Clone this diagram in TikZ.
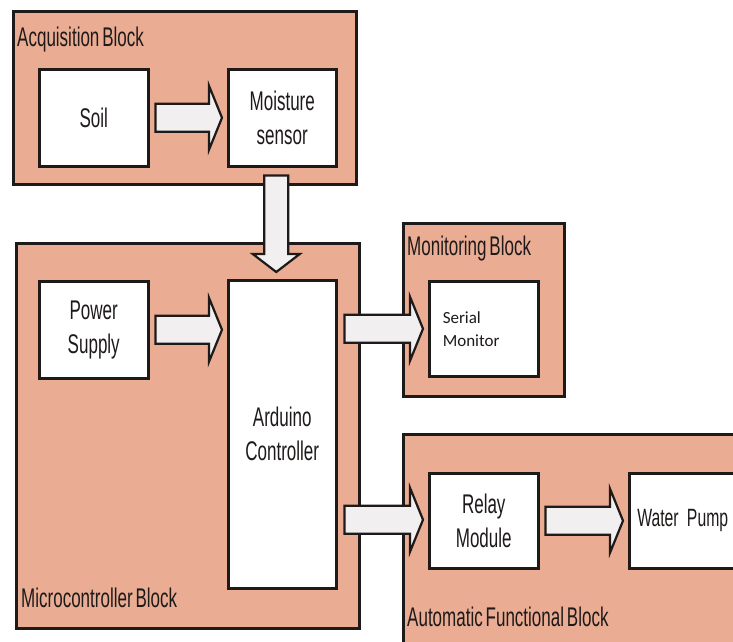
\documentclass[tikz,border=0pt]{standalone}
\usepackage{fontspec}
\setmainfont{Liberation Sans}
\newfontfamily\narrowfont[FakeStretch=0.63,WordSpace=0.6]{Liberation Sans}
\newfontfamily\serialfont{Carlito}
\usetikzlibrary{calc}
\definecolor{salmon}{HTML}{EAAD93}
\definecolor{arrowfill}{HTML}{F1EFEF}
\definecolor{ink}{HTML}{1E1A1A}
\tikzset{
  blockarea/.style={draw=ink, fill=salmon, line width=2.5pt, inner sep=0pt, anchor=north west},
  unit/.style={draw=ink, fill=white, line width=2.5pt, inner sep=0pt, anchor=north west, align=center,
    font=\narrowfont\fontsize{27}{34}\selectfont, text=ink},
  blocklabel/.style={anchor=base west, inner sep=0pt, font=\narrowfont\fontsize{27}{30}\selectfont, text=ink},
  fat/.style={draw=ink, fill=arrowfill, line width=2.2pt, line join=miter},
}
% horizontal block arrow: #1 start point, #2 tip point
\newcommand\fatarrowH[2]{%
  \draw[fat] let \p1=#1, \p2=#2 in
    (\x1,\y1+14pt) -- (\x2-13pt,\y1+14pt) -- (\x2-13pt,\y1+32pt) -- (\x2,\y1)
    -- (\x2-13pt,\y1-32pt) -- (\x2-13pt,\y1-14pt) -- (\x1,\y1-14pt) -- cycle;}
% vertical (downward) block arrow: #1 start point, #2 tip point
\newcommand\fatarrowV[2]{%
  \draw[fat] let \p1=#1, \p2=#2 in
    (\x1-12pt,\y1) -- (\x1-12pt,\y2+18pt) -- (\x1-23.5pt,\y2+18pt) -- (\x1,\y2)
    -- (\x1+23.5pt,\y2+18pt) -- (\x1+12pt,\y2+18pt) -- (\x1+12pt,\y1) -- cycle;}
\begin{document}
\begin{tikzpicture}[x=1pt,y=-1pt]
\useasboundingbox (0,0) rectangle (733,641);
\clip (0,0) rectangle (733,641);
\fill[white] (0,0) rectangle (733,641);

% blocks
\node[blockarea, minimum width=343, minimum height=173] (acq) at (12,10) {};
\node[blockarea, minimum width=343, minimum height=385] (mcu) at (15,242) {};
\node[blockarea, minimum width=161, minimum height=173] (mon) at (402,222) {};
\node[blockarea, minimum width=360, minimum height=230] (auto) at (402,433) {};

\node[blocklabel] (acqlbl) at (17,46) {Acquisition Block};
\node[blocklabel] (mculbl) at (21,607) {Microcontroller Block};
\node[blocklabel] (monlbl) at (407,255) {Monitoring Block};
\node[blocklabel] (autolbl) at (407,626) {Automatic Functional Block};

% units
\node[unit, minimum width=109, minimum height=97] (soil) at (38,68) {Soil};
\node[unit, minimum width=108, minimum height=97] (moist) at (227,68) {Moisture\\sensor};
\node[unit, minimum width=109, minimum height=97] (power) at (38,280) {Power\\Supply};
\node[unit, minimum width=108, minimum height=308] (ard) at (227,279) {Arduino\\Controller};
\node[unit, minimum height=95, text width=82, inner xsep=13.5, align=left,
      font=\serialfont\fontsize{17}{23}\selectfont] (serial) at (428,280) {Serial\\Monitor};
\node[unit, minimum width=109, minimum height=95] (relay) at (428,472) {Relay\\Module};
\node[unit, minimum height=95, text width=136, inner xsep=8, align=left,
      font=\narrowfont\fontsize{25}{34}\selectfont] (pump) at (628,472) {Water Pump};

% block arrows
\fatarrowH{($(soil.east)+(6,0)$)}{($(moist.west)+(-5,0)$)}
\fatarrowV{($(moist.south)+(-6,8)$)}{($(ard.north)+(-6,-7)$)}
\fatarrowH{($(power.east)+(6,0)$)}{($(ard.west |- power.east)+(-5,0)$)}
\fatarrowH{($(ard.east |- serial.west)+(7,0)$)}{($(serial.west)+(-5,0)$)}
\fatarrowH{($(ard.east |- relay.west)+(7,-1)$)}{($(relay.west)+(-5,-1)$)}
\fatarrowH{($(relay.east)+(6,0)$)}{($(pump.west)+(-5,0)$)}
\end{tikzpicture}
\end{document}
